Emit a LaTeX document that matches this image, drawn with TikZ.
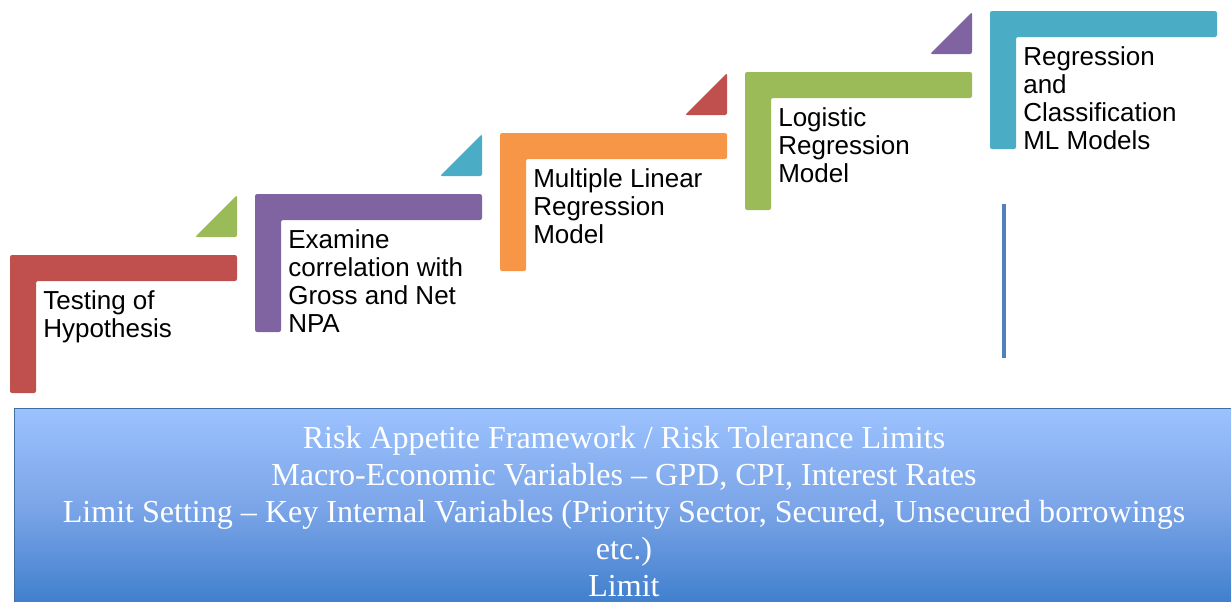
\documentclass[tikz,border=0pt]{standalone}
\usepackage{fontspec}
\setmainfont{Liberation Serif}
\setsansfont{Liberation Sans}
\usetikzlibrary{positioning}

\definecolor{stepred}{HTML}{C0504D}
\definecolor{steppurple}{HTML}{8064A2}
\definecolor{steporange}{HTML}{F79646}
\definecolor{stepgreen}{HTML}{9BBB59}
\definecolor{stepcyan}{HTML}{4BACC6}
\definecolor{barblue}{HTML}{4F81BD}
\definecolor{boxtop}{HTML}{9CC2FE}
\definecolor{boxmid}{HTML}{7BA5E8}
\definecolor{boxbot}{HTML}{3E7ECC}

\begin{document}
\begin{tikzpicture}[
  x=0.025cm, y=-0.025cm,
  stepL/.style={rounded corners=1.5pt},
  tri/.style={rounded corners=1.5pt},
  steptxt/.style={font=\sffamily\fontsize{18.5}{19.9}\selectfont, align=left, anchor=north west, inner sep=0pt},
  limitbox/.style={draw=barblue!85!black, line width=0.6pt, top color=boxtop, bottom color=boxbot, middle color=boxmid},
  limittxt/.style={font=\rmfamily\fontsize{22.8}{26.3}\selectfont, text=white, align=center, anchor=north, inner sep=0pt},
  vline/.style={draw=barblue, line width=3pt}
]
\useasboundingbox (0,0) rectangle (1231,601);
\clip (0,0) rectangle (1231,601);
\foreach \i/\x/\y/\c/\t in {
 1/10/255/stepred/{Testing of\\Hypothesis},
 2/255/194/steppurple/{Examine\\correlation with\\Gross and Net\\NPA},
 3/500/133/steporange/{Multiple Linear\\Regression\\Model},
 4/745/72/stepgreen/{Logistic\\Regression\\Model},
 5/990/11/stepcyan/{Regression\\and\\Classification\\ML Models}}
{
 \fill[stepL, fill=\c] (\x,\y) -- ++(227,0) -- ++(0,26) -- ++(-201,0) -- ++(0,112) -- ++(-26,0) -- cycle;
 \node[steptxt] (s\i) at (\x+33,\y+35) {\t};
}
\foreach \x/\y/\c in {255/194/stepgreen, 500/133/stepcyan, 745/72/stepred, 990/11/steppurple}
 \fill[tri, fill=\c] (\x-18,\y+1) -- (\x-18,\y+43) -- (\x-60,\y+43) -- cycle;
\coordinate (vtop) at (1004,204);
\coordinate (vbot) at (1004,358);
\draw[vline] (vtop) -- (vbot);
\path[limitbox] (14,408) rectangle (1250,606);
\node[limittxt] (limits) at (624,426) {Risk Appetite Framework / Risk Tolerance Limits\\Macro-Economic Variables – GPD, CPI, Interest Rates\\Limit Setting – Key Internal Variables (Priority Sector, Secured, Unsecured borrowings\\etc.)\\Limit};
\end{tikzpicture}
\end{document}
